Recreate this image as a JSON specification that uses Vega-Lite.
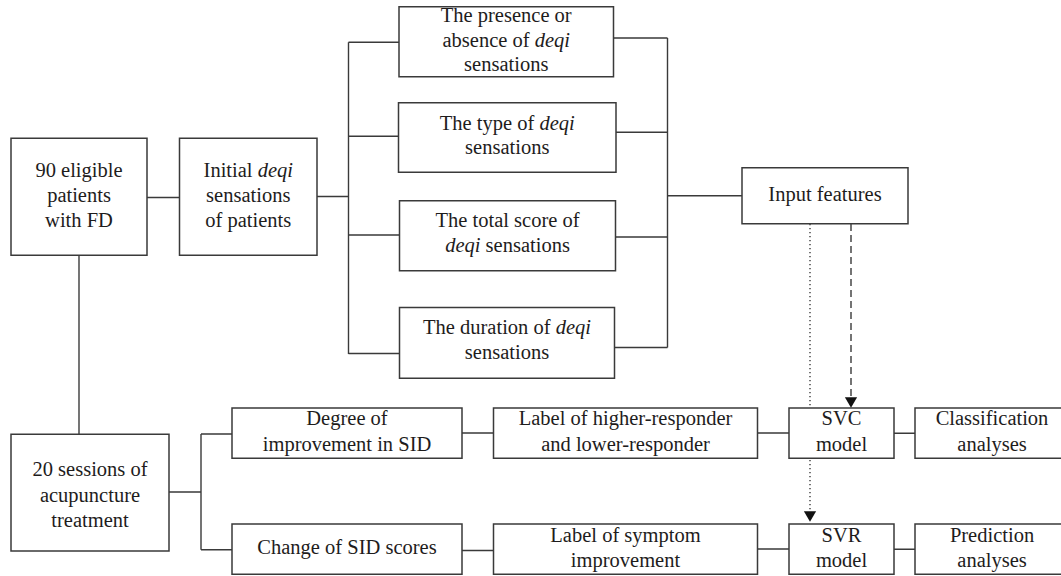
{
  "$schema": "https://vega.github.io/schema/vega-lite/v6.json",
  "width": 1061,
  "height": 576,
  "padding": 0,
  "autosize": {"type": "none"},
  "background": "white",
  "config": {"view": {"stroke": null}},
  "datasets": {
    "boxes": [
      {"id": "eligible", "x1": 11, "x2": 147, "y1": 138.3, "y2": 255.3},
      {"id": "initial", "x1": 179.5, "x2": 317, "y1": 138.3, "y2": 255.3},
      {"id": "presence", "x1": 399, "x2": 613.5, "y1": 6.7, "y2": 76.7},
      {"id": "type", "x1": 398.5, "x2": 616, "y1": 102.7, "y2": 172.3},
      {"id": "total", "x1": 399.5, "x2": 615.5, "y1": 200.7, "y2": 270.7},
      {"id": "duration", "x1": 399.5, "x2": 614.5, "y1": 307.5, "y2": 378.3},
      {"id": "input", "x1": 742, "x2": 908, "y1": 167.7, "y2": 223.7},
      {"id": "sessions", "x1": 11, "x2": 169, "y1": 434.3, "y2": 551},
      {"id": "degree", "x1": 232, "x2": 462, "y1": 408, "y2": 458.3},
      {"id": "change", "x1": 232, "x2": 462, "y1": 524, "y2": 574.3},
      {"id": "labelhigh", "x1": 493.5, "x2": 757.5, "y1": 408, "y2": 458.3},
      {"id": "labelsym", "x1": 493.5, "x2": 757.5, "y1": 524, "y2": 574.3},
      {"id": "svc", "x1": 789, "x2": 894, "y1": 408, "y2": 458.3},
      {"id": "svr", "x1": 789, "x2": 894, "y1": 524, "y2": 574.3},
      {"id": "class", "x1": 915, "x2": 1069, "y1": 408, "y2": 458.3},
      {"id": "pred", "x1": 915, "x2": 1069, "y1": 524, "y2": 574.3}
    ],
    "links": [
      {"kind": "solid", "x1": 147, "y1": 197.5, "x2": 179.5, "y2": 197.5},
      {"kind": "solid", "x1": 317, "y1": 196.5, "x2": 348.5, "y2": 196.5},
      {"kind": "solid", "x1": 348.5, "y1": 42.3, "x2": 348.5, "y2": 354},
      {"kind": "solid", "x1": 348.5, "y1": 42.3, "x2": 399, "y2": 42.3},
      {"kind": "solid", "x1": 348.5, "y1": 136.3, "x2": 398.5, "y2": 136.3},
      {"kind": "solid", "x1": 348.5, "y1": 235, "x2": 399.5, "y2": 235},
      {"kind": "solid", "x1": 348.5, "y1": 353.5, "x2": 399.5, "y2": 353.5},
      {"kind": "solid", "x1": 613.5, "y1": 38, "x2": 667.5, "y2": 38},
      {"kind": "solid", "x1": 616, "y1": 132.3, "x2": 667.5, "y2": 132.3},
      {"kind": "solid", "x1": 615.5, "y1": 237, "x2": 667.5, "y2": 237},
      {"kind": "solid", "x1": 614.5, "y1": 347.5, "x2": 667.5, "y2": 347.5},
      {"kind": "solid", "x1": 667.5, "y1": 38, "x2": 667.5, "y2": 347.5},
      {"kind": "solid", "x1": 667.5, "y1": 195.7, "x2": 742, "y2": 195.7},
      {"kind": "solid", "x1": 79, "y1": 255.3, "x2": 79, "y2": 434.3},
      {"kind": "solid", "x1": 169, "y1": 492, "x2": 201, "y2": 492},
      {"kind": "solid", "x1": 201, "y1": 434, "x2": 201, "y2": 549.7},
      {"kind": "solid", "x1": 201, "y1": 434, "x2": 232, "y2": 434},
      {"kind": "solid", "x1": 201, "y1": 549.7, "x2": 232, "y2": 549.7},
      {"kind": "solid", "x1": 462, "y1": 433, "x2": 493.5, "y2": 433},
      {"kind": "solid", "x1": 462, "y1": 550.5, "x2": 493.5, "y2": 550.5},
      {"kind": "solid", "x1": 757.5, "y1": 433, "x2": 789, "y2": 433},
      {"kind": "solid", "x1": 757.5, "y1": 549, "x2": 789, "y2": 549},
      {"kind": "solid", "x1": 894, "y1": 433.3, "x2": 915, "y2": 433.3},
      {"kind": "solid", "x1": 894, "y1": 549.3, "x2": 915, "y2": 549.3},
      {"kind": "dotted", "x1": 810, "y1": 224, "x2": 810, "y2": 406},
      {"kind": "dotted", "x1": 810, "y1": 460, "x2": 810, "y2": 511},
      {"kind": "dashed", "x1": 851, "y1": 224, "x2": 851, "y2": 398}
    ],
    "arrows": [
      {"kind": "dashed", "x": 851, "y": 402.5},
      {"kind": "dotted", "x": 810, "y": 516.5}
    ],
    "labels": [
      {"seg": "C", "x": 79, "y": 177, "text": "90 eligible"},
      {"seg": "C", "x": 79, "y": 202, "text": "patients"},
      {"seg": "C", "x": 79, "y": 227, "text": "with FD"},
      {"seg": "L", "x": 252.55, "y": 177, "text": "Initial"},
      {"seg": "R", "x": 257.7, "y": 177, "text": "deqi"},
      {"seg": "C", "x": 248.25, "y": 202, "text": "sensations"},
      {"seg": "C", "x": 248.25, "y": 227, "text": "of patients"},
      {"seg": "C", "x": 506.25, "y": 21.5, "text": "The presence or"},
      {"seg": "L", "x": 529.6, "y": 46.5, "text": "absence of"},
      {"seg": "R", "x": 534.7, "y": 46.5, "text": "deqi"},
      {"seg": "C", "x": 506.25, "y": 71, "text": "sensations"},
      {"seg": "L", "x": 534.3, "y": 130, "text": "The type of"},
      {"seg": "R", "x": 539.4, "y": 130, "text": "deqi"},
      {"seg": "C", "x": 507.25, "y": 154, "text": "sensations"},
      {"seg": "C", "x": 507.5, "y": 227, "text": "The total score of"},
      {"seg": "L", "x": 480.45, "y": 252, "text": "deqi"},
      {"seg": "R", "x": 485.6, "y": 252, "text": "sensations"},
      {"seg": "L", "x": 550.55, "y": 334, "text": "The duration of"},
      {"seg": "R", "x": 555.7, "y": 334, "text": "deqi"},
      {"seg": "C", "x": 507, "y": 359, "text": "sensations"},
      {"seg": "C", "x": 825, "y": 201, "text": "Input features"},
      {"seg": "C", "x": 90, "y": 476, "text": "20 sessions of"},
      {"seg": "C", "x": 90, "y": 502, "text": "acupuncture"},
      {"seg": "C", "x": 90, "y": 527, "text": "treatment"},
      {"seg": "C", "x": 347, "y": 425, "text": "Degree of"},
      {"seg": "C", "x": 347, "y": 451, "text": "improvement in SID"},
      {"seg": "C", "x": 347, "y": 554, "text": "Change of SID scores"},
      {"seg": "C", "x": 625.5, "y": 425, "text": "Label of higher-responder"},
      {"seg": "C", "x": 625.5, "y": 451, "text": "and lower-responder"},
      {"seg": "C", "x": 625.5, "y": 542, "text": "Label of symptom"},
      {"seg": "C", "x": 625.5, "y": 567, "text": "improvement"},
      {"seg": "C", "x": 841.5, "y": 425, "text": "SVC"},
      {"seg": "C", "x": 841.5, "y": 451, "text": "model"},
      {"seg": "C", "x": 841.5, "y": 542, "text": "SVR"},
      {"seg": "C", "x": 841.5, "y": 567, "text": "model"},
      {"seg": "C", "x": 992, "y": 425, "text": "Classification"},
      {"seg": "C", "x": 992, "y": 451, "text": "analyses"},
      {"seg": "C", "x": 992, "y": 542, "text": "Prediction"},
      {"seg": "C", "x": 992, "y": 567, "text": "analyses"}
    ]
  },
  "layer": [
    {
      "data": {"name": "links"},
      "mark": {"type": "rule", "color": "#3a3a3a", "strokeWidth": 1.4},
      "encoding": {
        "x": {"field": "x1", "type": "quantitative", "scale": {"domain": [0, 1061], "nice": false, "zero": false}, "axis": null},
        "x2": {"field": "x2"},
        "y": {"field": "y1", "type": "quantitative", "scale": {"domain": [0, 576], "nice": false, "zero": false, "reverse": true}, "axis": null},
        "y2": {"field": "y2"},
        "strokeDash": {"field": "kind", "type": "nominal", "scale": {"domain": ["solid", "dotted", "dashed"], "range": [[1, 0], [1.3, 2.7], [7, 4]]}, "legend": null}
      }
    },
    {
      "data": {"name": "boxes"},
      "mark": {"type": "rect", "fill": "white", "stroke": "#3a3a3a", "strokeWidth": 1.5, "clip": true},
      "encoding": {
        "x": {"field": "x1", "type": "quantitative", "scale": {"domain": [0, 1061], "nice": false, "zero": false}, "axis": null},
        "x2": {"field": "x2"},
        "y": {"field": "y1", "type": "quantitative", "scale": {"domain": [0, 576], "nice": false, "zero": false, "reverse": true}, "axis": null},
        "y2": {"field": "y2"}
      }
    },
    {
      "data": {"name": "arrows"},
      "mark": {"type": "point", "shape": "M-1,-0.85L1,-0.85L0,0.85Z", "size": 150, "filled": true, "color": "#111111", "opacity": 1},
      "encoding": {
        "x": {"field": "x", "type": "quantitative", "scale": {"domain": [0, 1061], "nice": false, "zero": false}, "axis": null},
        "y": {"field": "y", "type": "quantitative", "scale": {"domain": [0, 576], "nice": false, "zero": false, "reverse": true}, "axis": null}
      }
    },
    {
      "data": {"name": "labels"},
      "transform": [{"filter": "datum.seg == 'C'"}],
      "mark": {"type": "text", "align": "center", "baseline": "alphabetic", "font": "Liberation Serif", "fontSize": 20.5, "color": "#1e1c1c"},
      "encoding": {
        "x": {"field": "x", "type": "quantitative", "scale": {"domain": [0, 1061], "nice": false, "zero": false}, "axis": null},
        "y": {"field": "y", "type": "quantitative", "scale": {"domain": [0, 576], "nice": false, "zero": false, "reverse": true}, "axis": null},
        "text": {"field": "text"}
      }
    },
    {
      "data": {"name": "labels"},
      "transform": [{"filter": "datum.seg == 'L' && datum.text != 'deqi'"}],
      "mark": {"type": "text", "align": "right", "baseline": "alphabetic", "font": "Liberation Serif", "fontSize": 20.5, "color": "#1e1c1c"},
      "encoding": {
        "x": {"field": "x", "type": "quantitative", "scale": {"domain": [0, 1061], "nice": false, "zero": false}, "axis": null},
        "y": {"field": "y", "type": "quantitative", "scale": {"domain": [0, 576], "nice": false, "zero": false, "reverse": true}, "axis": null},
        "text": {"field": "text"}
      }
    },
    {
      "data": {"name": "labels"},
      "transform": [{"filter": "datum.seg == 'R' && datum.text != 'deqi'"}],
      "mark": {"type": "text", "align": "left", "baseline": "alphabetic", "font": "Liberation Serif", "fontSize": 20.5, "color": "#1e1c1c"},
      "encoding": {
        "x": {"field": "x", "type": "quantitative", "scale": {"domain": [0, 1061], "nice": false, "zero": false}, "axis": null},
        "y": {"field": "y", "type": "quantitative", "scale": {"domain": [0, 576], "nice": false, "zero": false, "reverse": true}, "axis": null},
        "text": {"field": "text"}
      }
    },
    {
      "data": {"name": "labels"},
      "transform": [{"filter": "datum.seg == 'L' && datum.text == 'deqi'"}],
      "mark": {"type": "text", "align": "right", "baseline": "alphabetic", "font": "Liberation Serif", "fontStyle": "italic", "fontSize": 20.5, "color": "#1e1c1c"},
      "encoding": {
        "x": {"field": "x", "type": "quantitative", "scale": {"domain": [0, 1061], "nice": false, "zero": false}, "axis": null},
        "y": {"field": "y", "type": "quantitative", "scale": {"domain": [0, 576], "nice": false, "zero": false, "reverse": true}, "axis": null},
        "text": {"field": "text"}
      }
    },
    {
      "data": {"name": "labels"},
      "transform": [{"filter": "datum.seg == 'R' && datum.text == 'deqi'"}],
      "mark": {"type": "text", "align": "left", "baseline": "alphabetic", "font": "Liberation Serif", "fontStyle": "italic", "fontSize": 20.5, "color": "#1e1c1c"},
      "encoding": {
        "x": {"field": "x", "type": "quantitative", "scale": {"domain": [0, 1061], "nice": false, "zero": false}, "axis": null},
        "y": {"field": "y", "type": "quantitative", "scale": {"domain": [0, 576], "nice": false, "zero": false, "reverse": true}, "axis": null},
        "text": {"field": "text"}
      }
    }
  ]
}
